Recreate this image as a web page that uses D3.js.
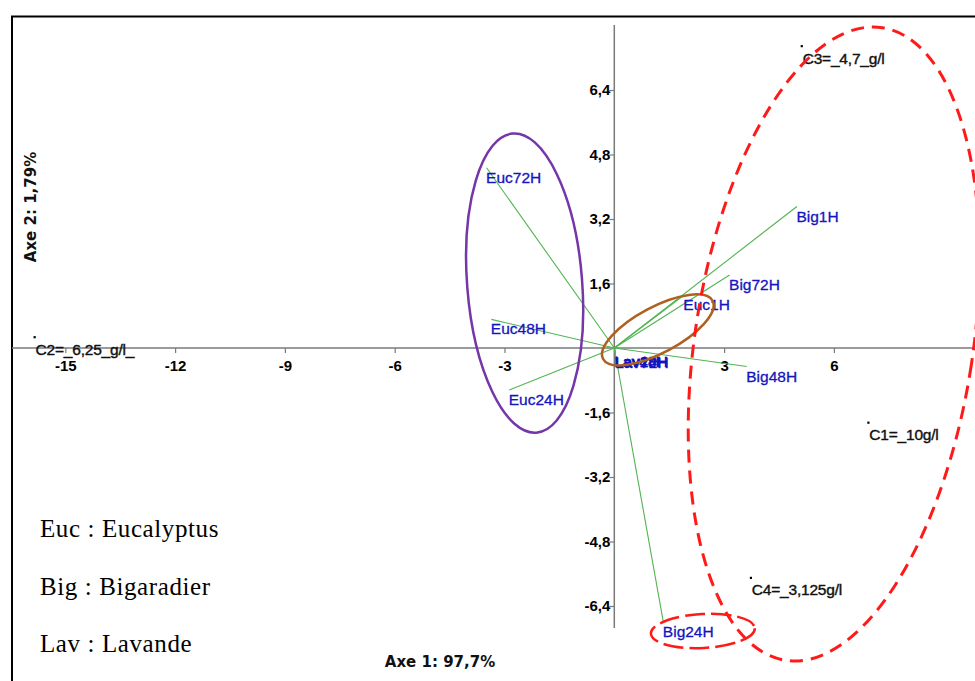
<!DOCTYPE html>
<html>
<head>
<meta charset="utf-8">
<script src="https://cdn.jsdelivr.net/npm/d3@7"></script>
<style>
  body { margin: 0; background: #fff; }
  svg { display: block; }
</style>
</head>
<body>
<svg id="chart" width="975" height="681"></svg>
<script>
// Active observations: factor scores on axis 1 and axis 2
const obsLabels = ["Euc72H", "Euc48H", "Euc24H", "Euc1H", "Big1H", "Big72H", "Big48H", "Big24H",
                   "Lav1H", "Lav24H", "Lav48H", "Lav72H"];
const obsAxis1 = [-3.49, -3.36, -2.87, 1.90, 4.99, 3.15, 3.62, 1.34, 0.02, 0.03, 0.01, 0.04];
const obsAxis2 = [4.47, 0.71, -1.04, 1.31, 3.51, 1.81, -0.46, -6.80, -0.10, -0.11, -0.09, -0.12];

// Supplementary points: concentrations
const supLabels = ["C1=_10g/l", "C2=_6,25_g/l_", "C3=_4,7_g/l", "C4=_3,125g/l"];
const supAxis1 = [6.94, -15.84, 5.12, 3.73];
const supAxis2 = [-1.85, 0.27, 7.49, -5.70];

// Axis ticks and texts
const xTicks = [-15, -12, -9, -6, -3, 3, 6];
const yTicks = [6.4, 4.8, 3.2, 1.6, -1.6, -3.2, -4.8, -6.4];
const axisTitles = ["Axe 1: 97,7%", "Axe 2: 1,79%"];
const legendLines = ["Euc : Eucalyptus", "Big : Bigaradier", "Lav : Lavande"];

const svg = d3.select("#chart");
const W = 975, H = 681;

const x = d3.scaleLinear().domain([-15, 6]).range([65.3, 833.9]);
const y = d3.scaleLinear().domain([-6.4, 6.4]).range([606, 90]);
const x0 = x(0), y0 = y(0);

// Frame
svg.append("rect")
  .attr("x", 12).attr("y", 16.5)
  .attr("width", W + 20).attr("height", H + 20)
  .attr("fill", "none").attr("stroke", "#000").attr("stroke-width", 2);

// Axis lines through the origin
svg.append("line")
  .attr("x1", 12).attr("x2", W).attr("y1", y0).attr("y2", y0)
  .attr("stroke", "#7a7a7a").attr("stroke-width", 1.5);
svg.append("line")
  .attr("x1", x0).attr("x2", x0).attr("y1", 25).attr("y2", 628)
  .attr("stroke", "#7a7a7a").attr("stroke-width", 1.5);

const tickFmt = d => String(d).replace(".", ",");

const gx = svg.append("g")
  .attr("transform", `translate(0,${y0})`)
  .call(d3.axisBottom(x).tickValues(xTicks).tickSize(5).tickPadding(7).tickFormat(tickFmt));
const gy = svg.append("g")
  .attr("transform", `translate(${x0},0)`)
  .call(d3.axisLeft(y).tickValues(yTicks).tickSize(5).tickPadding(-1).tickFormat(tickFmt));

[gx, gy].forEach(g => {
  g.select(".domain").remove();
  g.selectAll(".tick line").attr("stroke", "#7a7a7a").attr("stroke-width", 1.2);
  g.selectAll(".tick text")
    .attr("fill", "#000")
    .style("font-family", "'Liberation Sans', Arial, sans-serif")
    .style("font-weight", "bold")
    .style("font-size", "15px");
});

// Vectors from the origin to each observation
const obs = obsLabels.map((name, i) => ({ name, a1: obsAxis1[i], a2: obsAxis2[i] }));
svg.append("g").selectAll("line").data(obs).join("line")
  .attr("x1", x0).attr("y1", y0)
  .attr("x2", d => x(d.a1)).attr("y2", d => y(d.a2))
  .attr("stroke", "#52b452").attr("stroke-width", 1.1);

svg.append("g").selectAll("text").data(obs).join("text")
  .attr("x", d => x(d.a1) - 0.5).attr("y", d => y(d.a2) + 15)
  .attr("fill", "#1414c0")
  .attr("stroke", "#1414c0").attr("stroke-width", 0.3)
  .style("font-family", "'Liberation Sans', Arial, sans-serif")
  .style("font-size", "15.5px")
  .text(d => d.name);

// Supplementary points
const sup = supLabels.map((name, i) => ({ name, a1: supAxis1[i], a2: supAxis2[i] }));
svg.append("g").selectAll("rect").data(sup).join("rect")
  .attr("x", d => x(d.a1) - 1).attr("y", d => y(d.a2) - 1)
  .attr("width", 2.2).attr("height", 2.2).attr("fill", "#000");
svg.append("g").selectAll("text").data(sup).join("text")
  .attr("x", d => x(d.a1) + 1).attr("y", d => y(d.a2) + 17.5)
  .attr("fill", "#111")
  .attr("stroke", "#111").attr("stroke-width", 0.4)
  .style("font-family", "'Liberation Sans', Arial, sans-serif")
  .style("font-size", "15.5px")
  .style("letter-spacing", "-0.2px")
  .text(d => d.name);

// Group outlines (centre in axis units, radii in pixels)
const outlines = [
  { cx: -2.45, cy: 1.61, rx: 57.5, ry: 150, rot: -4.5, color: "#7436a8", width: 2.5, dash: null },
  { cx: 1.19, cy: 0.45, rx: 62, ry: 23, rot: -28, color: "#b0601e", width: 2.5, dash: null },
  { cx: 6.0, cy: 0.1, rx: 139, ry: 320, rot: 8.7, color: "#ff1a1a", width: 3, dash: "13,8" },
  { cx: 2.42, cy: -7.02, rx: 52, ry: 17, rot: -3, color: "#ff1a1a", width: 2.5, dash: "20,6" }
];
svg.append("g").selectAll("ellipse").data(outlines).join("ellipse")
  .attr("transform", d => `translate(${x(d.cx)},${y(d.cy)}) rotate(${d.rot})`)
  .attr("rx", d => d.rx).attr("ry", d => d.ry)
  .attr("fill", "none")
  .attr("stroke", d => d.color)
  .attr("stroke-width", d => d.width)
  .attr("stroke-dasharray", d => d.dash);

// Axis titles
svg.append("text")
  .attr("x", 440).attr("y", 667)
  .attr("text-anchor", "middle")
  .style("font-family", "'DejaVu Sans', Verdana, sans-serif")
  .style("font-weight", "bold").style("font-size", "15px")
  .attr("fill", "#111")
  .text(axisTitles[0]);
svg.append("text")
  .attr("transform", "translate(36,207) rotate(-90)")
  .attr("text-anchor", "middle")
  .style("font-family", "'DejaVu Sans', Verdana, sans-serif")
  .style("font-weight", "bold").style("font-size", "15px")
  .attr("fill", "#111")
  .text(axisTitles[1]);

// Abbreviation key
svg.append("g").selectAll("text").data(legendLines).join("text")
  .attr("x", 40).attr("y", (d, i) => 537 + i * 57.5)
  .attr("fill", "#000")
  .style("font-family", "'Liberation Serif', 'Times New Roman', serif")
  .style("font-size", "25px")
  .style("letter-spacing", "0.6px")
  .text(d => d);
</script>
</body>
</html>
